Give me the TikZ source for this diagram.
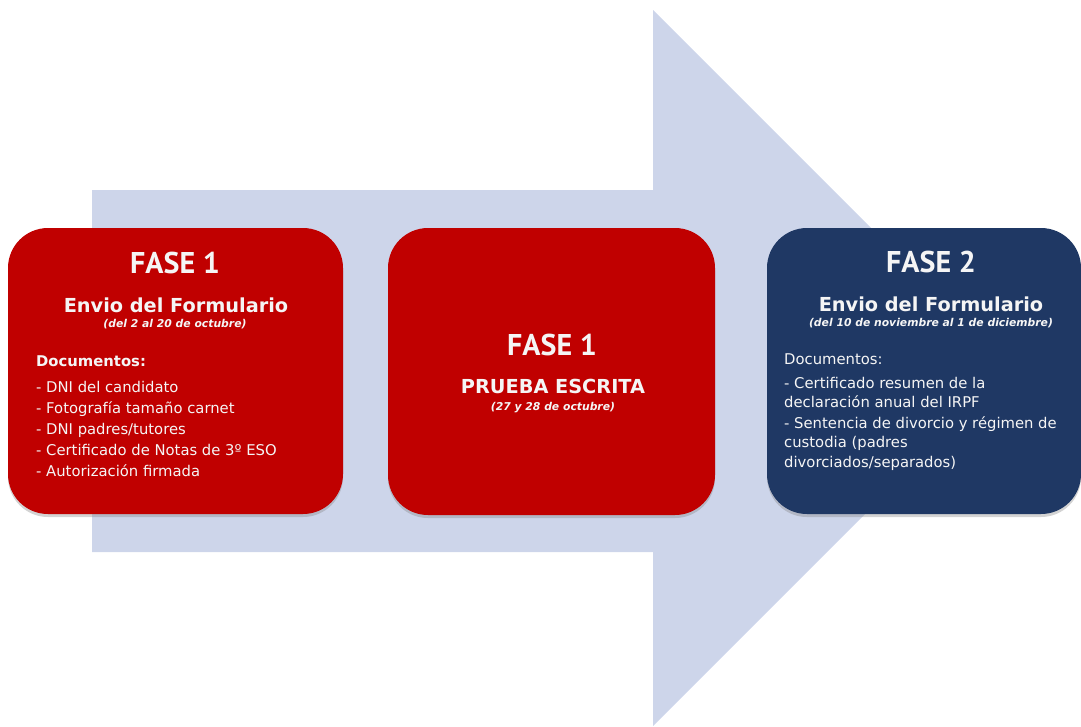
\documentclass[tikz,border=0pt]{standalone}
\usepackage{fontspec}
\setmainfont{DejaVu Sans}
\newfontfamily\ttlfont{PT Sans}
\usetikzlibrary{shadows}
\definecolor{arrowbg}{RGB}{205,213,234}
\definecolor{redbox}{RGB}{192,0,0}
\definecolor{bluebox}{RGB}{31,56,100}
\definecolor{txt}{RGB}{245,245,245}
\tikzset{
  phasebox/.style={draw=none, rounded corners=40pt, inner sep=0pt,
    drop shadow={opacity=0.35, shadow xshift=0pt, shadow yshift=-3pt}},
  ttl/.style={anchor=base, text=txt, font=\ttlfont\bfseries\fontsize{30}{30}\selectfont, inner sep=0pt},
  sub/.style={anchor=base, text=txt, font=\bfseries\fontsize{19.3}{19.3}\selectfont, inner sep=0pt},
  dte/.style={anchor=base, text=txt, font=\bfseries\itshape\fontsize{10.8}{10.8}\selectfont, inner sep=0pt},
  itm/.style={anchor=base west, text=txt, font=\fontsize{14.8}{14.8}\selectfont, inner sep=0pt},
}
\begin{document}
\begin{tikzpicture}[x=1pt,y=-1pt]
\useasboundingbox (0,0) rectangle (1081,726);
% big arrow
\fill[arrowbg] (92,190) -- (653,190) -- (653,10) -- (1011,368) -- (653,726) -- (653,552) -- (92,552) -- cycle;
% boxes
\fill[redbox, phasebox] (8,228) rectangle (343,514);
\fill[redbox, phasebox] (388,228) rectangle (715,515);
\fill[bluebox, phasebox] (767,228) rectangle (1081,514);
% box 1
\node[ttl] (a1) at (175,273) {FASE 1};
\node[sub] (a2) at (176,312) {Envio del Formulario};
\node[dte] (a3) at (175,327) {(del 2 al 20 de octubre)};
\node[itm, font=\bfseries\fontsize{14.8}{14.8}\selectfont] (a4) at (36,366) {Documentos:};
\node[itm] (a5) at (36,392) {- DNI del candidato};
\node[itm] (a6) at (36,413) {- Fotografía tamaño carnet};
\node[itm] (a7) at (36,434) {- DNI padres/tutores};
\node[itm] (a8) at (36,455) {- Certificado de Notas de 3º ESO};
\node[itm] (a9) at (36,476) {- Autorización firmada};
% box 2
\node[ttl] (b1) at (552,355) {FASE 1};
\node[sub] (b2) at (553,393) {PRUEBA ESCRITA};
\node[dte] (b3) at (553,410) {(27 y 28 de octubre)};
% box 3
\node[ttl] (c1) at (931,272) {FASE 2};
\node[sub] (c2) at (931,311) {Envio del Formulario};
\node[dte] (c3) at (931,326) {(del 10 de noviembre al 1 de diciembre)};
\node[itm] (c4) at (784,364) {Documentos:};
\node[itm] (c5) at (784,388) {- Certificado resumen de la};
\node[itm] (c6) at (784,407) {declaración anual del IRPF};
\node[itm] (c7) at (784,428) {- Sentencia de divorcio y régimen de};
\node[itm] (c8) at (784,447.5) {custodia (padres};
\node[itm] (c9) at (784,467) {divorciados/separados)};
\end{tikzpicture}
\end{document}
